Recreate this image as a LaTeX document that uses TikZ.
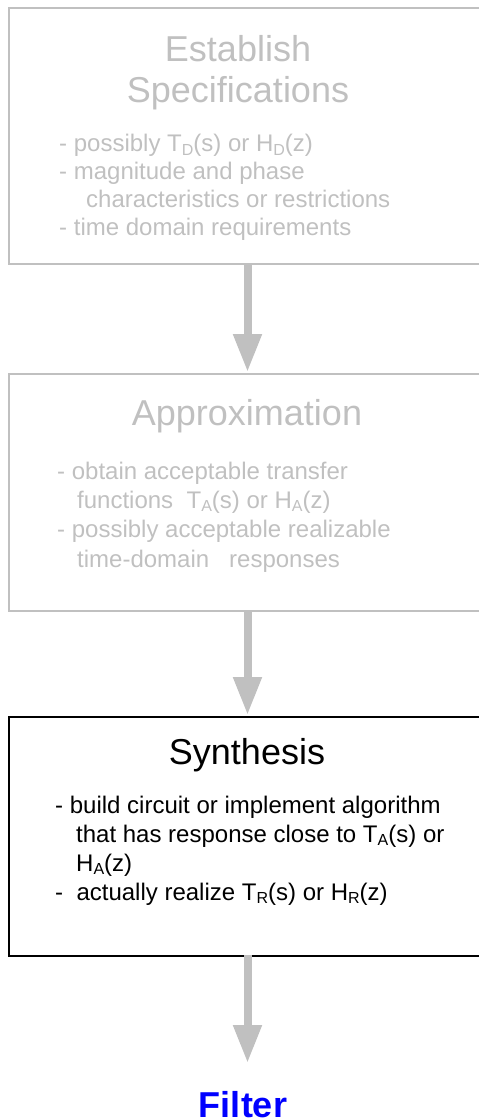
\documentclass[tikz,border=0pt]{standalone}
\usepackage{fontspec}
\setmainfont{Liberation Sans}
\usetikzlibrary{arrows.meta}
\definecolor{lgray}{HTML}{C0C0C0}
\definecolor{fblue}{HTML}{0000FF}
\newcommand\mysub[1]{\raisebox{-3.5pt}{\fontsize{16}{16}\selectfont #1}}
\tikzset{
  box/.style={draw, line width=1.5pt, minimum width=479pt, minimum height=#1, inner sep=0pt, anchor=north west},
  ttl/.style={anchor=base, inner sep=0pt, font=\fontsize{36}{40}\selectfont},
  txt/.style={anchor=base west, inner sep=0pt, font=\fontsize{24}{28}\selectfont},
  bigarrow/.style={draw=lgray, line width=8pt, -{Triangle[width=27pt,length=38pt]}, lgray}
}
\begin{document}
\begin{tikzpicture}[x=1pt,y=-1pt]
\useasboundingbox (0,0) rectangle (479,1120);
\clip (0,0) rectangle (479,1120);
% boxes
\node[box=256pt, draw=lgray] (spec) at (8,7) {};
\node[box=237pt, draw=lgray] (approx) at (8,373) {};
\node[box=239pt, draw=black] (synth) at (8,716) {};
% box 1 text
\begin{scope}[text=lgray]
\node[ttl] (t1a) at (238,61) {Establish};
\node[ttl] (t1b) at (238,102) {Specifications};
\node[txt] (l11) at (59,151.5) {- possibly T\mysub{D}(s) or H\mysub{D}(z)};
\node[txt] (l12) at (59,179) {- magnitude and phase};
\node[txt] (l13) at (86,207) {characteristics or restrictions};
\node[txt] (l14) at (59,235) {- time domain requirements};
% box 2 text
\node[ttl] (t2) at (247,425) {Approximation};
\node[txt] (l21) at (57,479) {- obtain acceptable transfer};
\node[txt] (l22) at (77,508) {functions~ T\mysub{A}(s) or H\mysub{A}(z)};
\node[txt] (l23) at (57,537.5) {- possibly acceptable realizable};
\node[txt] (l24) at (77,567) {time-domain~~ responses};
\end{scope}
% box 3 text
\node[ttl] (t3) at (247,764) {Synthesis};
\node[txt] (l31) at (55,813) {- build circuit or implement algorithm};
\node[txt] (l32) at (76,842) {that has response close to T\mysub{A}(s) or};
\node[txt] (l33) at (76,871) {H\mysub{A}(z)};
\node[txt] (l34) at (55,900) {-~ actually realize T\mysub{R}(s) or H\mysub{R}(z)};
% filter
\node[anchor=base, inner sep=0pt, text depth=0pt, text=fblue, font=\fontsize{36}{40}\selectfont\bfseries] (filter) at (243,1117.5) {Filter};
\coordinate (tip3) at (247.5,1063);
% arrows
\draw[bigarrow] (247.5,263.5) -- (247.5,372);
\draw[bigarrow] (247.5,610) -- (247.5,715);
\draw[bigarrow] (247.5,955) -- (tip3);
\end{tikzpicture}
\end{document}
